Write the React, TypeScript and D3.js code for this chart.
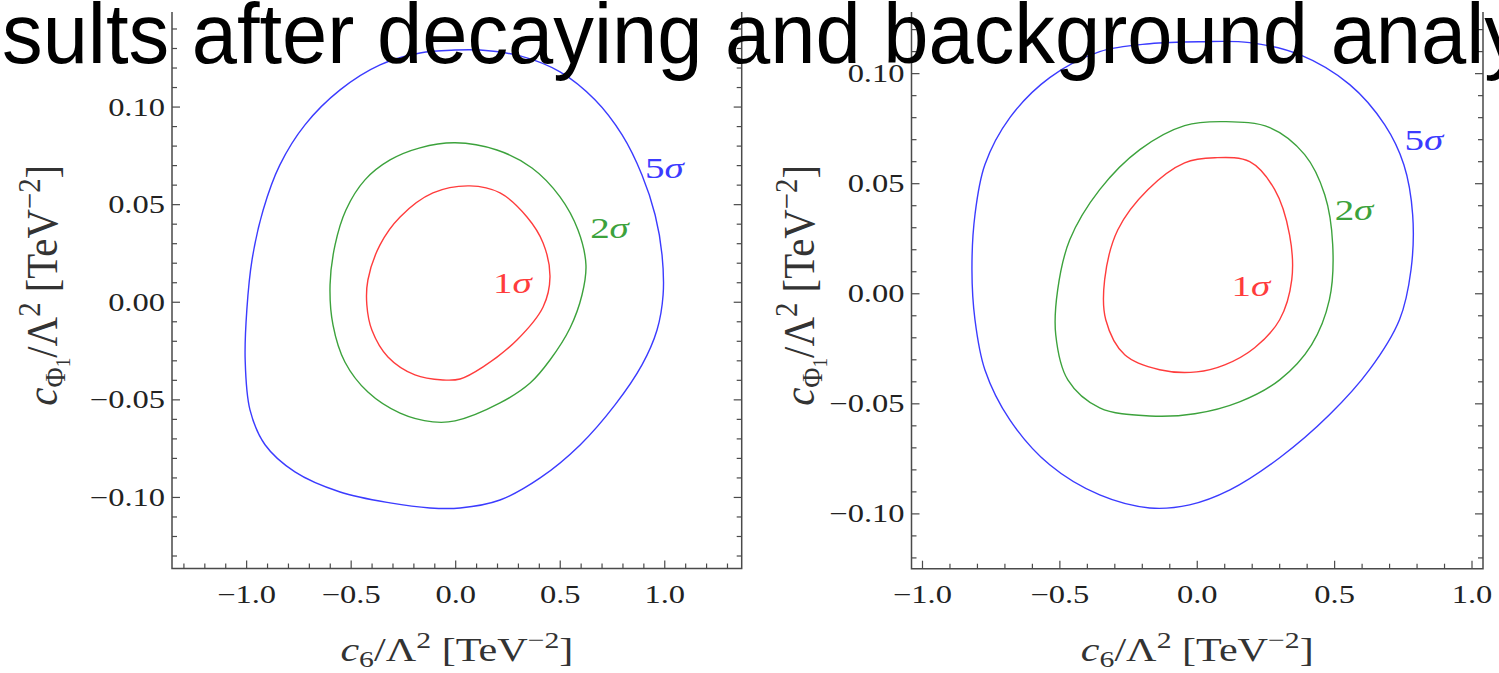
import React from "react";
import * as d3 from "d3";

// contour points, [c6, cPhi1]
const leftSigma5: [number, number][] = [
  [-0.003, 0.1292], [-0.171, 0.1277], [-0.362, 0.1216], [-0.553, 0.1088], [-0.721, 0.0909],
  [-0.841, 0.0704], [-0.921, 0.0473], [-0.974, 0.0218], [-0.999, -0.0038], [-1.007, -0.0295],
  [-0.984, -0.0551], [-0.912, -0.073], [-0.769, -0.0869], [-0.553, -0.0972], [-0.314, -0.1028],
  [-0.123, -0.1054], [0.021, -0.1054], [0.212, -0.1013], [0.404, -0.09], [0.595, -0.0731],
  [0.762, -0.0526], [0.891, -0.0321], [0.963, -0.0142], [0.992, 0.0037], [0.987, 0.0242],
  [0.954, 0.0447], [0.891, 0.0652], [0.796, 0.0857], [0.666, 0.1037], [0.499, 0.118],
  [0.308, 0.1262], [0.116, 0.1292],
];
const leftSigma2: [number, number][] = [
  [-0.003, 0.0817], [-0.171, 0.0791], [-0.314, 0.0729], [-0.434, 0.0627], [-0.525, 0.0473],
  [-0.577, 0.0294], [-0.601, 0.0089], [-0.587, -0.0116], [-0.53, -0.0306], [-0.42, -0.046],
  [-0.266, -0.0568], [-0.109, -0.0613], [-0.003, -0.0608], [0.212, -0.0516], [0.356, -0.0414],
  [0.451, -0.0296], [0.547, -0.0132], [0.604, 0.0037], [0.623, 0.0191], [0.585, 0.037],
  [0.499, 0.054], [0.365, 0.0688], [0.197, 0.078],
];
const leftSigma1: [number, number][] = [
  [0.068, 0.0596], [-0.109, 0.056], [-0.266, 0.0437], [-0.362, 0.0294], [-0.42, 0.0114],
  [-0.425, -0.0014], [-0.401, -0.0142], [-0.324, -0.028], [-0.195, -0.0372], [-0.061, -0.0398],
  [0.021, -0.0393], [0.131, -0.0331], [0.293, -0.0193], [0.418, -0.0024], [0.451, 0.013],
  [0.418, 0.0304], [0.341, 0.0437], [0.212, 0.056],
];

const rightSigma5: [number, number][] = [
  [-0.173, 0.1136], [-0.355, 0.11], [-0.537, 0.0982], [-0.682, 0.08], [-0.773, 0.0586],
  [-0.809, 0.0359], [-0.82, 0.0109], [-0.809, -0.0118], [-0.773, -0.0345], [-0.682, -0.0573],
  [-0.537, -0.0777], [-0.355, -0.0914], [-0.173, -0.0973], [-0.028, -0.0959], [0.119, -0.0891],
  [0.3, -0.0745], [0.481, -0.055], [0.627, -0.0345], [0.736, -0.0118], [0.778, 0.0109],
  [0.784, 0.0359], [0.752, 0.0586], [0.682, 0.0768], [0.555, 0.095], [0.373, 0.1086],
  [0.191, 0.1141], [0.009, 0.1145],
];
const rightSigma2: [number, number][] = [
  [0.1, 0.0782], [0.264, 0.0755], [0.391, 0.0632], [0.464, 0.045], [0.493, 0.0223],
  [0.481, -0.0027], [0.416, -0.0232], [0.3, -0.0391], [0.154, -0.0491], [-0.009, -0.0545],
  [-0.173, -0.0555], [-0.355, -0.0518], [-0.471, -0.0391], [-0.515, -0.0186], [-0.508, 0.0018],
  [-0.464, 0.0245], [-0.355, 0.0473], [-0.209, 0.0655], [-0.046, 0.0764],
];
const rightSigma1: [number, number][] = [
  [0.064, 0.0618], [0.191, 0.06], [0.282, 0.0473], [0.336, 0.0268], [0.344, 0.0064],
  [0.3, -0.0118], [0.209, -0.0245], [0.1, -0.0323], [-0.002, -0.0355], [-0.137, -0.0345],
  [-0.264, -0.0277], [-0.333, -0.0118], [-0.337, 0.0064], [-0.289, 0.0291], [-0.18, 0.0473],
  [-0.046, 0.0595],
];

const sigmaNames = ["5", "2", "1"];
const sigmaColors = ["#3b3bff", "#3ca23c", "#ff3c3c"];
// label anchor (left, baseline) per sigma, in data units
const leftLabelPos: [number, number][] = [[0.906, 0.0637], [0.643, 0.0329], [0.178, 0.0048]];
const rightLabelPos: [number, number][] = [[0.754, 0.0655], [0.5, 0.0336], [0.125, -0.0009]];

const xMajor = [-1, -0.5, 0, 0.5, 1];
const yMajor = [-0.1, -0.05, 0, 0.05, 0.1];
const xTickLabels = ["\u22121.0", "\u22120.5", "0.0", "0.5", "1.0"];
const yTickLabels = ["\u22120.10", "\u22120.05", "0.00", "0.05", "0.10"];

const titleText = "sults after decaying and background analy";

const SX = 1.3; // picture is stretched sideways
const serif = "'Liberation Serif', 'Times New Roman', serif";
const frameColor = "#4a4a4a";

function Panel({ left, right, top, bottom, xDomain, yDomain, contours, labelPos, yLabelX }) {
  const x = d3.scaleLinear().domain(xDomain).range([left, right]);
  const y = d3.scaleLinear().domain(yDomain).range([bottom, top]);
  const line = d3
    .line<[number, number]>()
    .x((d) => x(d[0]))
    .y((d) => y(d[1]))
    .curve(d3.curveCatmullRomClosed.alpha(0.5));

  const xMinor = d3.range(Math.ceil(xDomain[0] * 10), Math.floor(xDomain[1] * 10) + 1).map((v) => v / 10);
  const yMinor = d3.range(Math.ceil(yDomain[0] * 100), Math.floor(yDomain[1] * 100) + 1).map((v) => v / 100);
  const isMajorX = (v) => xMajor.some((m) => Math.abs(m - v) < 1e-6);
  const isMajorY = (v) => Math.abs(Math.round(v * 20) - v * 20) < 1e-6;

  return (
    <g>
      {contours.map((c, i) => (
        <path key={i} d={line(c)} fill="none" stroke={sigmaColors[i]} strokeWidth={1.4} />
      ))}
      {labelPos.map((p, i) => (
        <text
          key={"l" + i}
          transform={`translate(${x(p[0])},${y(p[1])}) scale(${SX},1)`}
          fill={sigmaColors[i]}
          fontFamily={serif}
          fontSize={30}
        >
          {sigmaNames[i]}
          <tspan fontStyle="italic">σ</tspan>
        </text>
      ))}

      {/* frame: no top edge, it is cut off */}
      <path
        d={`M${left},${top}V${bottom}H${right}V${top}`}
        fill="none"
        stroke={frameColor}
        strokeWidth={1.5}
      />
      {xMinor.map((v) => {
        const len = isMajorX(v) ? 8 : 5;
        return <line key={"xm" + v} x1={x(v)} x2={x(v)} y1={bottom} y2={bottom - len} stroke={frameColor} strokeWidth={1.2} />;
      })}
      {yMinor.map((v) => {
        const len = isMajorY(v) ? 8 : 5;
        return (
          <g key={"ym" + v}>
            <line x1={left} x2={left + len} y1={y(v)} y2={y(v)} stroke={frameColor} strokeWidth={1.2} />
            <line x1={right} x2={right - len} y1={y(v)} y2={y(v)} stroke={frameColor} strokeWidth={1.2} />
          </g>
        );
      })}
      {xMajor.map((v, i) => (
        <text
          key={"xt" + i}
          transform={`translate(${x(v)},${bottom + 34}) scale(${SX},1)`}
          textAnchor="middle"
          fontFamily={serif}
          fontSize={25}
          fill="#222"
        >
          {xTickLabels[i]}
        </text>
      ))}
      {yMajor.map((v, i) => (
        <text
          key={"yt" + i}
          transform={`translate(${left - 7},${y(v) + 8.5}) scale(${SX},1)`}
          textAnchor="end"
          fontFamily={serif}
          fontSize={25}
          fill="#222"
        >
          {yTickLabels[i]}
        </text>
      ))}

      <text
        transform={`translate(${(left + right) / 2},${bottom + 92}) scale(1.24,1)`}
        textAnchor="middle"
        fontFamily={serif}
        fontSize={34}
        fill="#333"
      >
        <tspan fontStyle="italic">c</tspan>
        <tspan fontSize={24} dy={6}>6</tspan>
        <tspan dy={-6}>/Λ</tspan>
        <tspan fontSize={24} dy={-13}>2</tspan>
        <tspan dy={13}> [TeV</tspan>
        <tspan fontSize={24} dy={-13}>−2</tspan>
        <tspan dy={13}>]</tspan>
      </text>
      <text
        transform={`translate(${yLabelX},${(top + bottom) / 2 - 5}) scale(1.3,1.2) rotate(-90)`}
        textAnchor="middle"
        fontFamily={serif}
        fontSize={34}
        fill="#333"
      >
        <tspan fontStyle="italic">c</tspan>
        <tspan fontSize={23} dy={6}>Φ</tspan>
        <tspan fontSize={16} dy={4}>1</tspan>
        <tspan dy={-10}>/Λ</tspan>
        <tspan fontSize={24} dy={-13}>2</tspan>
        <tspan dy={13}> [TeV</tspan>
        <tspan fontSize={24} dy={-13}>−2</tspan>
        <tspan dy={13}>]</tspan>
      </text>
    </g>
  );
}

export default function App() {
  return (
    <svg
      width={1499}
      height={673}
      style={{ position: "absolute", left: 0, top: 0, background: "#fff" }}
    >
      <rect width={1499} height={673} fill="#fff" />
      <Panel
        left={172}
        right={741.7}
        top={12}
        bottom={568.5}
        xDomain={[-1.357, 1.368]}
        yDomain={[-0.1364, 0.1487]}
        contours={[leftSigma5, leftSigma2, leftSigma1]}
        labelPos={leftLabelPos}
        yLabelX={57}
      />
      <Panel
        left={911.5}
        right={1483}
        top={12}
        bottom={568.7}
        xDomain={[-1.04, 1.04]}
        yDomain={[-0.1249, 0.128]}
        contours={[rightSigma5, rightSigma2, rightSigma1]}
        labelPos={rightLabelPos}
        yLabelX={814}
      />
      <text
        x={2}
        y={63}
        fontFamily="'Liberation Sans', Arial, sans-serif"
        fontSize={86}
        textLength={1523}
        lengthAdjust="spacingAndGlyphs"
        fill="#000"
      >
        {titleText}
      </text>
    </svg>
  );
}
